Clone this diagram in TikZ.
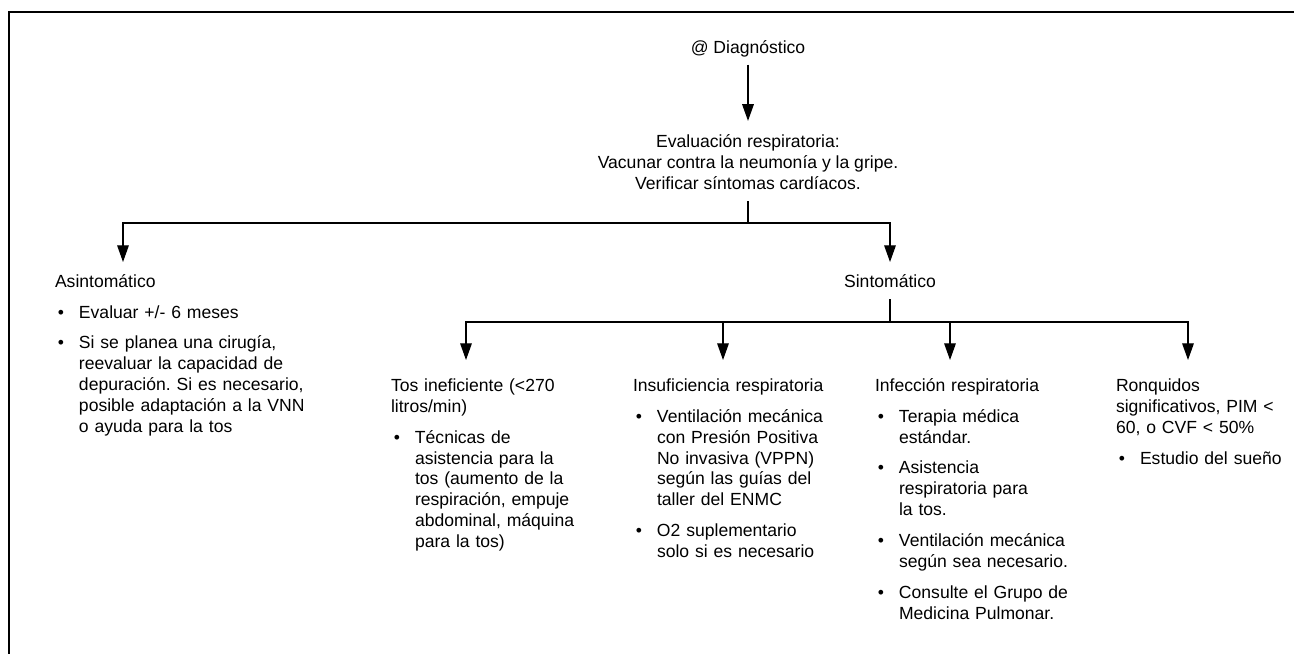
\documentclass[tikz,border=0pt]{standalone}
\usepackage{fontspec}
\setmainfont{Liberation Sans}
\frenchspacing
\usetikzlibrary{arrows.meta}
\tikzset{arr/.style={-{Triangle[length=9.5pt,width=6.6pt]}},
         txt/.style={inner sep=0,outer sep=0,font=\fontsize{10pt}{0.42cm}\selectfont},
         col/.style={txt,anchor=base west,align=left,text width=5cm}
}
\newcommand\bul{\par\vspace{0.2cm}\hangindent=0.48cm\hangafter=0\noindent\llap{\textbullet\hspace{0.3cm}}}

\begin{document}
\begin{tikzpicture}[x=0.02cm,y=-0.02cm,draw/.append style={line width=0.7pt,black}]
  \useasboundingbox(0,0)rectangle(1294,654);
  \draw[line width=1pt](1294,12)--(9,12)--(9,654);
  % top of the tree
  \node[txt,anchor=base](diag) at (748,53){@ Diagnóstico};
  \node[txt,anchor=base,align=center](eval) at (748,189){Evaluación respiratoria:\\Vacunar contra la neumonía y la gripe.\\Verificar síntomas cardíacos.};
  \node[col](asin) at (55,287){Asintomático
     \bul Evaluar +/- 6 meses
     \bul Si se planea una cirugía,\newline reevaluar la capacidad de\newline depuración. Si es necesario,\newline posible adaptación a la VNN\newline o ayuda para la tos\par};
  \node[txt,anchor=base](sint) at (890,287){Sintomático};
  % the four branches
  \node[col](tos) at (391,391){Tos ineficiente (<270\\litros/min)
     \bul Técnicas de\newline asistencia para la\newline tos (aumento de la\newline respiración, empuje\newline abdominal, máquina\newline para la tos)\par};
  \node[col](insuf) at (633,391){Insuficiencia respiratoria
     \bul Ventilación mecánica\newline con Presión Positiva\newline No invasiva (VPPN)\newline según las guías del\newline taller del ENMC
     \bul O2 suplementario\newline solo si es necesario\par};
  \node[col](infec) at (875,391){Infección respiratoria
     \bul Terapia médica\newline estándar.
     \bul Asistencia\newline respiratoria para\newline la tos.
     \bul Ventilación mecánica\newline según sea necesario.
     \bul Consulte el Grupo de\newline Medicina Pulmonar.\par};
  \node[col](ronq) at (1116,391){Ronquidos\\significativos, PIM <\\60, o CVF < 50\%
     \bul Estudio del sueño\par};
  \coordinate(fork1) at (748,223);
  \coordinate(fork2) at (890,322);
  \coordinate(asin top) at (123,262);
  \coordinate(sint top) at (890,262);
  \foreach\n/\x in {tos/466,insuf/723,infec/950,ronq/1188}
     \coordinate(\n top) at (\x,360);
  % connectors
  \draw[arr,shorten <=4.5pt,shorten >=7.5pt](diag)--(eval);
  \draw[shorten <=7pt](eval)--(fork1);
  \draw[arr](fork1)-|(asin top);
  \draw[arr](fork1)-|(sint top);
  \draw[shorten <=7pt](sint)--(fork2);
  \foreach\n in {tos,insuf,infec,ronq}
     \draw[arr](fork2)-|(\n top);
\end{tikzpicture}
\end{document}
